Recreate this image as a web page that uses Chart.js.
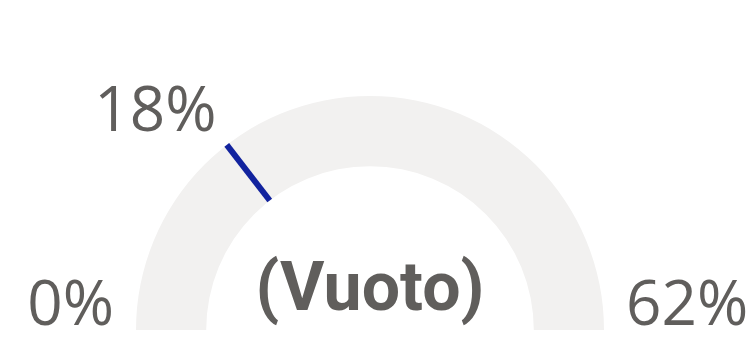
<!DOCTYPE html>
<html>
<head>
<meta charset="utf-8">
<script src="https://cdn.jsdelivr.net/npm/chart.js@4.4.1/dist/chart.umd.min.js"></script>
<style>
  html, body { margin: 0; padding: 0; background: #ffffff; }
  #wrap { width: 748px; height: 340px; position: relative; }
</style>
</head>
<body>
<div id="wrap"><canvas id="gaugeChart" width="748" height="340"></canvas></div>
<script>
// gauge values (value is blank -> "(Vuoto)")
const gaugeMin = [0];
const gaugeMax = [62];
const gaugeValue = [0];
const gaugeTarget = [18];
const calloutText = ['(Vuoto)'];
const tickLabels = ['0%', '62%', '18%'];

const textColor = '#605E5C';

const gaugeLabels = {
    id: 'gaugeLabels',
    afterDatasetsDraw(chart) {
        const ctx = chart.ctx;
        const arc = chart.getDatasetMeta(0).data[0];
        if (!arc) return;
        const cx = arc.x, cy = arc.y;
        const rOut = arc.outerRadius, rIn = arc.innerRadius;

        // target line
        const frac = (gaugeTarget[0] - gaugeMin[0]) / (gaugeMax[0] - gaugeMin[0]);
        const ang = Math.PI - frac * Math.PI;
        ctx.save();
        ctx.strokeStyle = '#12239E';
        ctx.lineWidth = 6;
        ctx.beginPath();
        ctx.moveTo(cx + rIn * Math.cos(ang), cy - rIn * Math.sin(ang));
        ctx.lineTo(cx + rOut * Math.cos(ang), cy - rOut * Math.sin(ang));
        ctx.stroke();

        // min / max labels
        ctx.fillStyle = textColor;
        ctx.font = '400 62px "Open Sans"';
        ctx.textBaseline = 'alphabetic';
        ctx.textAlign = 'right';
        ctx.fillText(tickLabels[0], cx - rOut - 22, cy - 5);
        ctx.textAlign = 'left';
        ctx.fillText(tickLabels[1], cx + rOut + 22, cy - 5);

        // target label
        ctx.textAlign = 'right';
        ctx.fillText(tickLabels[2], cx + (rOut + 12) * Math.cos(ang) - 3, cy - (rOut + 12) * Math.sin(ang) - 4);

        // callout
        ctx.font = 'bold 68px Roboto';
        ctx.textAlign = 'center';
        ctx.fillText(calloutText[0], cx, cy - 20);
        ctx.restore();
    }
};

const ctx = document.getElementById('gaugeChart').getContext('2d');
const gaugeChart = new Chart(ctx, {
    type: 'doughnut',
    data: {
        labels: ['Valore', 'Resto'],
        datasets: [{
            data: [gaugeValue[0], gaugeMax[0] - gaugeValue[0]],
            backgroundColor: ['#118DFF', '#F2F1F0'],
            borderWidth: 0
        }]
    },
    options: {
        responsive: false,
        animation: false,
        rotation: -90,
        circumference: 180,
        cutout: '70%',
        layout: {
            padding: { left: 136, right: 144, top: 96, bottom: 10 }
        },
        plugins: {
            legend: { display: false },
            tooltip: { enabled: false }
        }
    },
    plugins: [gaugeLabels]
});
</script>
</body>
</html>
